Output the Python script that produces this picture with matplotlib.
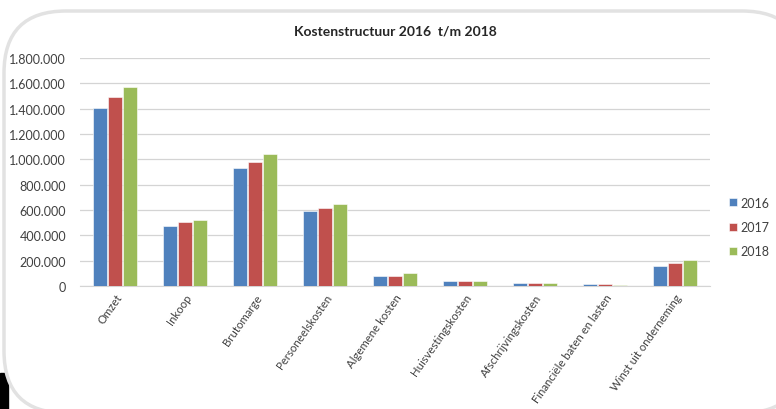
#kostenstructuur staafdiagram
import matplotlib.pyplot as plt
from matplotlib.patches import FancyBboxPatch, Rectangle
from matplotlib.ticker import FuncFormatter
import numpy as np

categorieen = ['Omzet', 'Inkoop', 'Brutomarge', 'Personeelskosten', 'Algemene kosten',
               'Huisvestingskosten', 'Afschrijvingskosten', 'Financiële baten en lasten',
               'Winst uit onderneming']
jaren = ['2016', '2017', '2018']
w2016 = [1403000, 471000, 929000, 594000, 81000, 42000, 24000, 16000, 155000]
w2017 = [1489000, 508000, 979000, 618000, 81000, 42000, 24000, 16000, 179000]
w2018 = [1568000, 523000, 1039000, 645000, 100000, 41000, 24000, 8000, 205000]
kleuren = ['#4F81BD', '#C0504D', '#9BBB59']


def main():
    plt.rcParams['font.family'] = ['Lato', 'DejaVu Sans']
    fig = plt.figure(figsize=(7.76, 4.10), dpi=100)
    W, H = 776, 410

    # zwarte hoek linksonder en afgeronde rand
    fig.patches.append(Rectangle((0, 0), 8 / W, 36 / H, transform=fig.transFigure,
                                 color='black', zorder=0))
    fig.patches.append(FancyBboxPatch((4 / W, -4 / H), 800 / W, 402 / H,
                                      boxstyle='round,pad=0,rounding_size=0.08',
                                      transform=fig.transFigure, facecolor='white',
                                      edgecolor='#e2e2e2', linewidth=2.5, zorder=1,
                                      mutation_aspect=W / H))

    ax = fig.add_axes([80 / W, 123 / H, 630 / W, 228 / H])
    ax.set_zorder(2)
    ax.patch.set_alpha(0)
    x = np.arange(len(categorieen))
    breedte = 0.19
    for i, (reeks, jaar) in enumerate(zip([w2016, w2017, w2018], jaren)):
        ax.bar(x + (i - 1) * 0.215, reeks, breedte, color=kleuren[i], label=jaar,
               edgecolor='white', linewidth=0.4, zorder=3)

    ax.set_xlim(-0.5, len(categorieen) - 0.5)
    ax.set_ylim(0, 1800000)
    ax.set_yticks(range(0, 1800001, 200000))
    ax.yaxis.set_major_formatter(FuncFormatter(lambda v, p: f'{int(v):,}'.replace(',', '.')))
    ax.grid(axis='y', color='#d4d4d4', linewidth=0.9, zorder=0)
    for s in ['top', 'right', 'left']:
        ax.spines[s].set_visible(False)
    ax.spines['bottom'].set_color('#d4d4d4')
    ax.tick_params(axis='y', length=0, labelsize=9, labelcolor='#404040', pad=10)
    ax.tick_params(axis='x', length=0, labelsize=8.2, labelcolor='#404040', pad=4)
    ax.set_xticks(x)
    ax.set_xticklabels(categorieen, rotation=55, ha='right', rotation_mode='anchor')

    fig.text(395 / W, 1 - 32 / H, 'Kostenstructuur 2016  t/m 2018', ha='center', va='center',
             fontsize=10, fontweight='bold', color='#262626', zorder=3)
    fig.legend(loc='center left', bbox_to_anchor=(718 / W, 1 - 228 / H), frameon=False,
               fontsize=9, handlelength=0.6, handleheight=0.6, handletextpad=0.3,
               labelspacing=1.0, labelcolor='#404040')

    fig.savefig('out.png', dpi=100)


main()
